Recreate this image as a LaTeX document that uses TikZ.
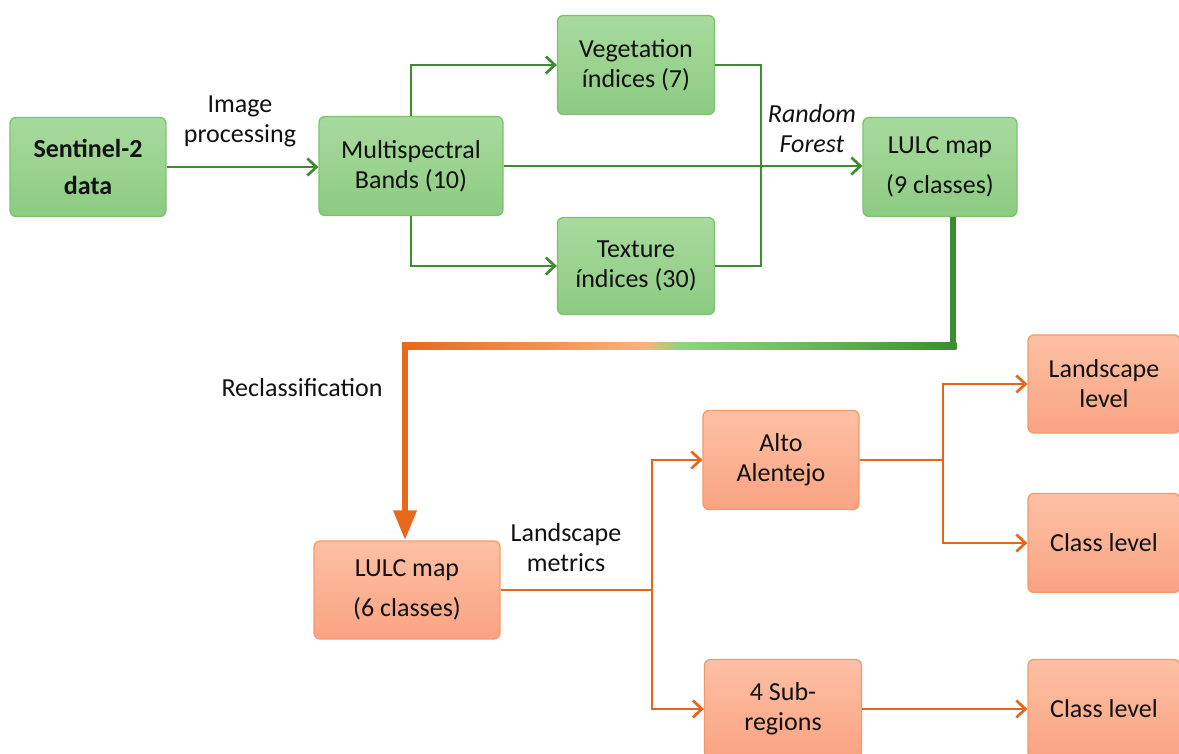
\documentclass[tikz,border=0pt]{standalone}
\usepackage{fontspec}
\setmainfont{Carlito}
\usetikzlibrary{arrows.meta,calc}
\definecolor{gfillT}{HTML}{A8DA9E}
\definecolor{gfillB}{HTML}{8DCB81}
\definecolor{gdraw}{HTML}{7EC270}
\definecolor{gline}{HTML}{3C8C30}
\definecolor{ofillT}{HTML}{FDC0A4}
\definecolor{ofillB}{HTML}{F9A382}
\definecolor{odraw}{HTML}{F49A68}
\definecolor{oline}{HTML}{E3661B}
\definecolor{txt}{HTML}{111111}
\definecolor{rcA}{HTML}{E8681C}
\definecolor{rcB}{HTML}{F4924E}
\definecolor{rcC}{HTML}{FBB27E}
\definecolor{rcD}{HTML}{90D283}
\definecolor{rcE}{HTML}{72B862}
\definecolor{rcF}{HTML}{3C8C30}
\pgfdeclarehorizontalshading{recl}{100bp}{color(0bp)=(rcA); color(25bp)=(rcA); color(38bp)=(rcB); color(47bp)=(rcC); color(50bp)=(rcD); color(61bp)=(rcE); color(75bp)=(rcF); color(100bp)=(rcF)}
\tikzset{
  box/.style={rectangle, rounded corners=6pt, line width=1.3pt, align=center,
    inner sep=0pt, text=txt, font=\fontsize{26}{30}\selectfont,
    minimum width=156pt, minimum height=99pt},
  gbox/.style={box, draw=gdraw, top color=gfillT, bottom color=gfillB},
  obox/.style={box, draw=odraw, top color=ofillT, bottom color=ofillB},
  gconn/.style={draw=gline, line width=2.7pt, -{Straight Barb[length=9pt,width=17pt]}},
  gseg/.style={draw=gline, line width=2.7pt},
  oconn/.style={draw=oline, line width=2.7pt, -{Straight Barb[length=9pt,width=17pt]}},
  oseg/.style={draw=oline, line width=2.7pt},
  lbl/.style={align=center, inner sep=0pt, text=txt, font=\fontsize{26}{30}\selectfont},
}
\begin{document}
\begin{tikzpicture}[x=1pt,y=-1pt]
\useasboundingbox (0,0) rectangle (1179,754);
% green nodes
\node[gbox] (s2) at (88,167) {\bfseries Sentinel-2\\[7pt]\bfseries data};
\node[gbox, minimum width=184pt] (ms) at (411,166) {Multispectral\\Bands (10)};
\node[gbox, minimum width=157pt] (veg) at (636,65) {Vegetation\\índices (7)};
\node[gbox, minimum width=157pt, minimum height=97pt] (tex) at (636,266) {Texture\\índices (30)};
\node[gbox, minimum width=154pt] (l9) at (940,167) {LULC map\\[10pt](9 classes)};
% orange nodes
\node[obox, minimum width=186pt, minimum height=98pt] (l6) at (407,590) {LULC map\\[10pt](6 classes)};
\node[obox] (alto) at (781,460) {Alto\\Alentejo};
\node[obox, minimum width=152pt, minimum height=98pt] (ll) at (1104,384) {Landscape\\level};
\node[obox, minimum width=152pt] (cl1) at (1104,543) {Class level};
\node[obox, minimum width=157pt] (sub) at (783,709) {4 Sub-\\regions};
\node[obox, minimum width=152pt] (cl2) at (1104,709) {Class level};
% labels
\node[lbl] (ip) at (240,121) {Image\\processing};
\node[lbl, font=\fontsize{26}{30}\selectfont\itshape] (rf) at (812,129) {Random\\Forest};
\node[lbl] (rc) at (302,388) {Reclassification};
\node[lbl] (lm) at (566,548) {Landscape\\metrics};
% green connectors
\coordinate (jx) at (761,167);
\draw[gconn] (s2.east) -- (s2.east -| ms.west);
\draw[gconn] (ms.north) |- (veg.west);
\draw[gconn] (ms.south) |- (tex.west);
\draw[gconn] (ms.east) -- (ms.east -| l9.west);
\draw[gseg] (veg.east) -| (jx);
\draw[gseg] (tex.east) -| (jx);
% reclassification connector
\coordinate (g1) at (953,346);
\coordinate (o1) at (405,346);
\draw[draw=rcF, line width=6.5pt] (l9.south -| g1) -- ([yshift=3pt]g1);
\shade[shading=recl] ([shift={(-3.25,-3.25)}]o1) rectangle ([shift={(3.25,3.25)}]g1);
\draw[draw=rcA, line width=6.5pt, -{Triangle[length=30pt,width=22pt]}] ([yshift=-3.25pt]o1) -- (o1 |- l6.north);
% orange connectors
\coordinate (m1) at (652,590);
\coordinate (a1) at (943,460);
\draw[oseg] (l6.east |- m1) -- (m1);
\draw[oconn] (m1) |- (alto.west);
\draw[oconn] (m1) |- (sub.west);
\draw[oseg] (alto.east) -- (a1);
\draw[oconn] (a1) |- (ll.west);
\draw[oconn] (a1) |- (cl1.west);
\draw[oconn] (sub.east) -- (cl2.west);
\end{tikzpicture}
\end{document}
